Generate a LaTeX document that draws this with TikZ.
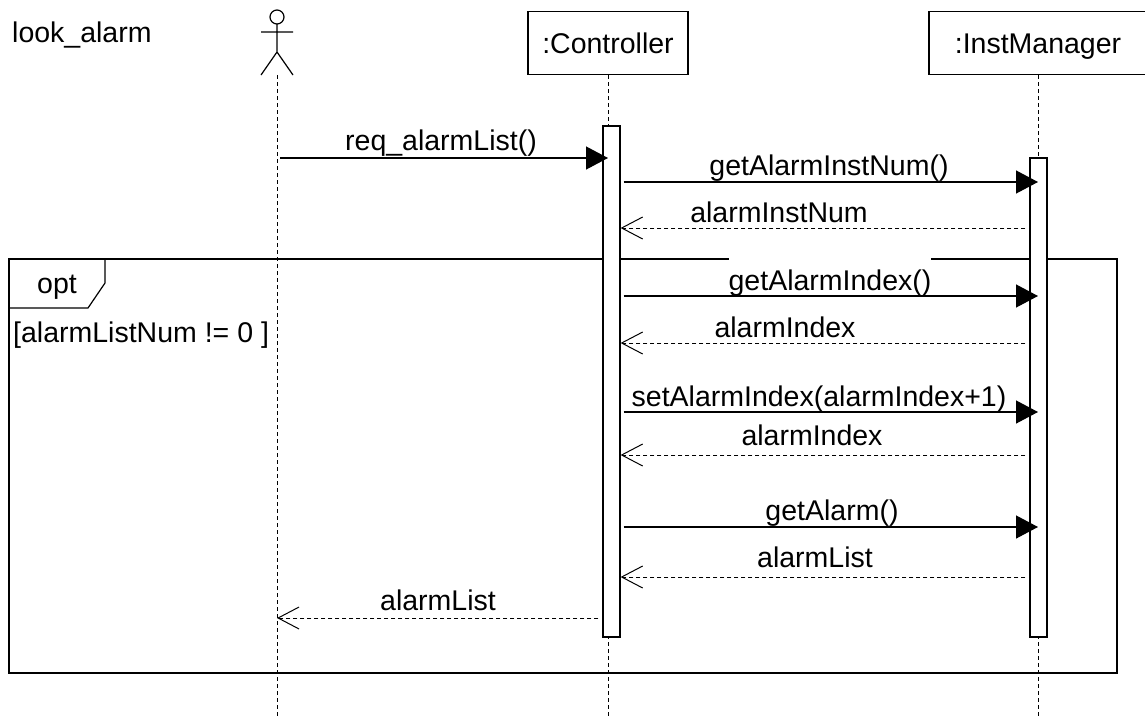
\documentclass[tikz,border=0pt]{standalone}
\usepackage{fontspec}
\setmainfont{Liberation Sans}
\usetikzlibrary{arrows.meta}
\tikzstyle{obj} = [rectangle, draw, line width=1.2pt, minimum height=63pt, 
text height=26pt, text depth=6pt, inner sep=0pt]
\tikzstyle{act} = [rectangle, draw, fill=white, line width=1.2pt, minimum width=17pt, inner sep=0pt]
\tikzstyle{optbox} = [rectangle, draw, line width=1.6pt, minimum width=1108pt, 
minimum height=414pt, inner sep=0pt, outer sep=0pt]
\tikzstyle{lifeline} = [draw, line width=1pt, dash pattern=on 4pt off 3pt]
\tikzstyle{call} = [draw, line width=1.3pt, shorten <=3pt, -{Triangle[length=22pt,width=23pt]}]
\tikzstyle{reply} = [draw, line width=1pt, dash pattern=on 4pt off 3pt, shorten <=4pt, 
-{Straight Barb[length=21pt,width=22pt]}]
\tikzstyle{lbl} = [fill=white, inner sep=0pt, anchor=base, text height=22pt, text depth=2pt]

\begin{document}
\begin{tikzpicture}[x=1pt, y=-1pt, font=\fontsize{28.5}{34}\selectfont]
	\useasboundingbox (0,0) rectangle (1145,718);
	% Frame
	\node [optbox] (optBox) at (563,466) {};
	\draw [line width=1.2pt] (optBox.north west) ++(96,0) -- ++(0,24) -- ++(-17,25) -- (optBox.west |- 0,308);
	\node [anchor=base, inner sep=0pt] (optName) at (57,293) {opt};
	\node [anchor=base west, inner sep=0pt] (guard) at (13,342) {[alarmListNum != 0 ]};
	\node [anchor=base west, inner sep=0pt] (title) at (12,42) {look\_alarm};
	%
	% Actor
	\coordinate (actor) at (277,75);
	\draw [line width=1.2pt] (277,17) circle [radius=7pt];
	\draw [line width=1.2pt] (261,32) -- (293,32) (277,24) -- (277,52) (261,75) -- (277,52) -- (293,75);
	%
	% Place nodes
	\node [obj, minimum width=160pt] (ctl) at (608,43) {:Controller};
	\node [obj, minimum width=218pt, right of=ctl, node distance=430pt] (mgr) {:InstManager};
	%
	\path [lifeline] (actor) -- (actor |- 0,718);
	\path [lifeline] (ctl.south) -- (ctl.south |- 0,718);
	\path [lifeline] (mgr.south) -- (mgr.south |- 0,718);
	%
	\node [act, minimum height=511pt] (ctlAct) at (611.5,381.5) {};
	\node [act, minimum height=479pt] (mgrAct) at (1038.5,397.5) {};
	%
	% Messages
	\node [lbl] (m1) at (441,150) {req\_alarmList()};
	\path [call] (actor |- 0,158) -- (ctl.south |- 0,158);
	
	\node [lbl] (m2) at (829,175) {getAlarmInstNum()};
	\path [call] (ctlAct.east |- 0,182) -- (mgr.south |- 0,182);
	\node [lbl] (r2) at (779,222) {alarmInstNum};
	\path [reply] (mgrAct.west |- 0,228) -- (ctlAct.east |- 0,228);
	
	\node [lbl, text height=33pt] (m3) at (830,290) {getAlarmIndex()};
	\path [call] (ctlAct.east |- 0,296) -- (mgr.south |- 0,296);
	\node [lbl] (r3) at (785,337) {alarmIndex};
	\path [reply] (mgrAct.west |- 0,343) -- (ctlAct.east |- 0,343);
	
	\node [lbl] (m4) at (819,406) {setAlarmIndex(alarmIndex+1)};
	\path [call] (ctlAct.east |- 0,412) -- (mgr.south |- 0,412);
	\node [lbl] (r4) at (812,445) {alarmIndex};
	\path [reply] (mgrAct.west |- 0,455) -- (ctlAct.east |- 0,455);
	
	\node [lbl] (m5) at (832,520) {getAlarm()};
	\path [call] (ctlAct.east |- 0,527) -- (mgr.south |- 0,527);
	\node [lbl] (r5) at (815,567) {alarmList};
	\path [reply] (mgrAct.west |- 0,577) -- (ctlAct.east |- 0,577);
	
	\node [lbl] (r1) at (438,610) {alarmList};
	\path [reply] (ctlAct.west |- 0,618) -- (actor |- 0,618);
\end{tikzpicture}
\end{document}
